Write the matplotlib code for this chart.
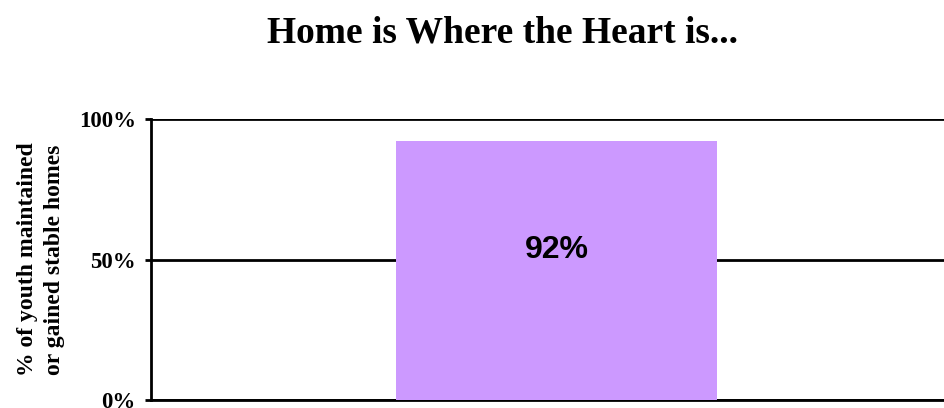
import matplotlib.pyplot as plt
from matplotlib.ticker import PercentFormatter

# data
categories = ['Youth']
values = [0.92]
value_labels = ['92%']
yticks = [0, 0.5, 1.0]

fig = plt.figure(figsize=(9.45, 4.08), dpi=100)
# axes run off the right edge like the original cropped chart
ax = fig.add_axes([151 / 945, 8 / 408, 811 / 945, 281 / 408])

bars = ax.bar(range(len(categories)), values, width=0.396,
              color='#CC99FF', edgecolor='none', zorder=3)
ax.set_xlim(-0.5, 0.5)
ax.set_ylim(0, 1.0)

for rect, lab in zip(bars, value_labels):
    ax.text(rect.get_x() + rect.get_width() / 2, 0.535, lab,
            ha='center', va='center', fontsize=23, fontweight='bold',
            family='Liberation Sans', zorder=4)

ax.set_yticks(yticks)
ax.yaxis.set_major_formatter(PercentFormatter(1.0, decimals=0))
ax.set_xticks([])
for lab in ax.get_yticklabels():
    lab.set_family('Liberation Serif')
    lab.set_fontweight('bold')
    lab.set_fontsize(16.5)
ax.tick_params(axis='y', length=4, width=2, direction='out', pad=7)

ax.grid(axis='y', color='black', linewidth=2, zorder=1)
for side in ['top', 'right']:
    ax.spines[side].set_visible(False)
ax.spines['left'].set_linewidth(2)
ax.spines['bottom'].set_linewidth(2)

ax.set_ylabel('% of youth maintained\nor gained stable homes',
              family='Liberation Serif', fontweight='bold', fontsize=17,
              linespacing=1.4)
ax.yaxis.set_label_coords((65 - 151) / 811, 0.5)

fig.text(503 / 945, 1 - 33 / 408, 'Home is Where the Heart is...',
         ha='center', va='center', family='Liberation Serif',
         fontweight='bold', fontsize=27)

fig.savefig('out.png', dpi=100)
